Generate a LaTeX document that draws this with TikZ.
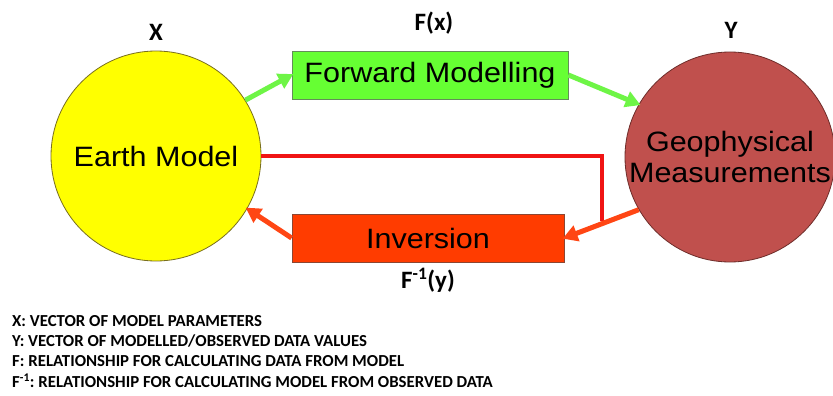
\documentclass[tikz,border=0pt]{standalone}
\usepackage{fontspec}
\setmainfont{Liberation Sans}
\newfontfamily\arialw[FakeStretch=1.09]{Liberation Sans}
\newfontfamily\calib{Carlito}
\usetikzlibrary{arrows.meta}
\definecolor{ylw}{RGB}{255,255,0}
\definecolor{ylwb}{RGB}{120,110,30}
\definecolor{geo}{RGB}{192,80,77}
\definecolor{geob}{RGB}{110,45,42}
\definecolor{fwdf}{RGB}{102,255,51}
\definecolor{fwdb}{RGB}{100,140,90}
\definecolor{grn}{RGB}{110,245,70}
\definecolor{invf}{RGB}{255,60,0}
\definecolor{invb}{RGB}{140,70,50}
\definecolor{org}{RGB}{255,70,20}
\definecolor{rd}{RGB}{240,20,20}
\begin{document}
\begin{tikzpicture}[x=1pt,y=-1pt,
  bigtext/.style={font=\arialw\fontsize{28}{31}\selectfont},
  circ/.style={circle,draw,line width=0.8pt,minimum size=210pt,inner sep=0pt,bigtext,align=center},
  boxn/.style={draw,line width=0.8pt,inner sep=0pt,bigtext},
  lbl/.style={font=\calib\bfseries\fontsize{25}{27}\selectfont,inner sep=0pt},
  legend/.style={font=\calib\bfseries\fontsize{16.8}{19}\selectfont,inner sep=0pt,anchor=west},
  garrow/.style={draw=grn,line width=5pt,-{Triangle[length=15pt,width=16pt]},shorten >=-2pt},
  oarrow/.style={draw=org,line width=5pt,-{Triangle[length=15pt,width=16pt]},shorten >=-2pt}]
\useasboundingbox (0,0) rectangle (833,396);
\fill[white] (0,0) rectangle (833,396);
\node[circ,fill=ylw,draw=ylwb] (earth) at (156,156) {Earth Model};
\node[circ,fill=geo,draw=geob] (geo) at (730,157) {Geophysical\\Measurements};
\node[boxn,fill=fwdf,draw=fwdb,minimum width=276pt,minimum height=48pt] (fwd) at (430,75) {Forward Modelling};
\node[boxn,fill=invf,draw=invb,minimum width=272pt,minimum height=48pt] (inv) at (428,238) {Inversion};
\node[lbl] (xl) at (156,32) {X};
\node[lbl] (yl) at (731,30) {Y};
\node[lbl] (fx) at (434,23) {F(x)};
\node[lbl] (fy) at (428,280) {F\textsuperscript{-1}(y)};
\coordinate (redend) at (602,221);
\draw[rd,line width=4pt] (earth.east) -| (redend);
\draw[garrow] (earth.32) -- (fwd.west);
\draw[garrow] (fwd.east) -- (geo.150);
\draw[oarrow] (geo.210) -- (inv.east);
\draw[oarrow] (inv.west) -- (earth.330);
\node[legend] (l1) at (12,321) {X: VECTOR OF MODEL PARAMETERS};
\node[legend] (l2) at (12,341) {Y: VECTOR OF MODELLED/OBSERVED DATA VALUES};
\node[legend] (l3) at (12,361) {F: RELATIONSHIP FOR CALCULATING DATA FROM MODEL};
\node[legend] (l4) at (12,381) {F\textsuperscript{-1}:~RELATIONSHIP FOR CALCULATING MODEL FROM OBSERVED DATA};
\end{tikzpicture}
\end{document}
